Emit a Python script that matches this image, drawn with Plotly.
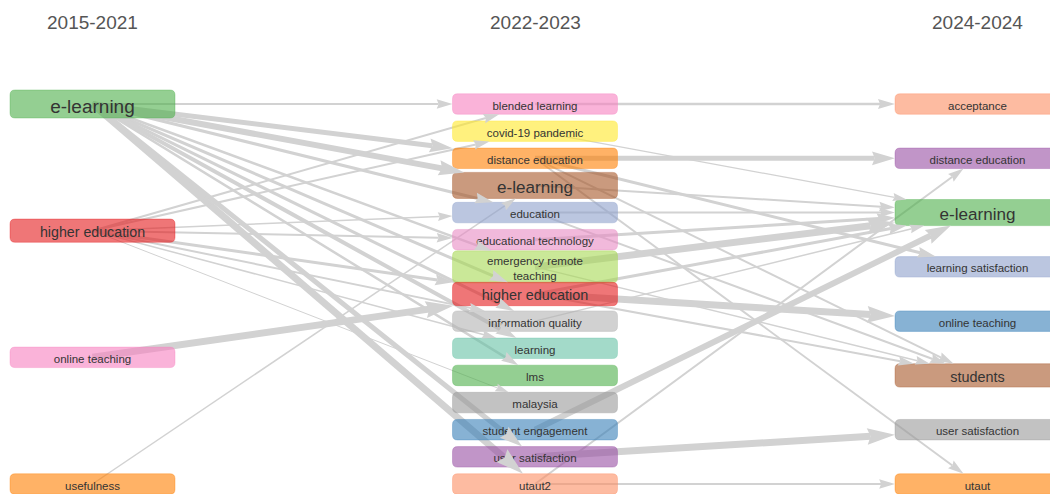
import math
import plotly.graph_objects as go

# ---------------- data ----------------
period_titles = ["2015-2021", "2022-2023", "2024-2024"]

p1_labels = ["e-learning", "higher education", "online teaching", "usefulness"]
p1_freq = [57, 27, 10, 10]

p2_labels = ["blended learning", "covid-19 pandemic", "distance education", "e-learning",
             "education", "educational technology", "emergency remote teaching",
             "higher education", "information quality", "learning", "lms", "malaysia",
             "student engagement", "user satisfaction", "utaut2"]
p2_freq = [10, 10, 10, 45, 10, 10, 10, 28, 10, 10, 10, 10, 10, 10, 10]

p3_labels = ["acceptance", "distance education", "e-learning", "learning satisfaction",
             "online teaching", "students", "user satisfaction", "utaut"]
p3_freq = [10, 10, 45, 10, 10, 28, 10, 10]

# links period 1 -> period 2
l12_source = ["e-learning", "e-learning", "e-learning", "e-learning", "e-learning",
              "e-learning", "e-learning", "e-learning", "e-learning", "e-learning",
              "e-learning", "higher education", "higher education", "higher education",
              "higher education", "higher education", "higher education",
              "higher education", "higher education", "online teaching", "usefulness"]
l12_target = ["blended learning", "distance education", "e-learning", "education",
              "emergency remote teaching", "higher education", "information quality",
              "learning", "lms", "user satisfaction", "utaut2", "blended learning",
              "covid-19 pandemic", "education", "educational technology",
              "higher education", "information quality", "learning", "malaysia",
              "higher education", "e-learning"]
l12_weight = [2, 5, 6, 3, 2.5, 3, 3, 4, 2.5, 5, 7, 2, 2, 1.5, 2, 3, 2, 1.5, 1, 7, 1.5]

# links period 2 -> period 3
l23_source = ["blended learning", "covid-19 pandemic", "distance education",
              "distance education", "distance education", "distance education",
              "e-learning", "education", "education", "educational technology",
              "emergency remote teaching", "emergency remote teaching",
              "higher education", "higher education", "higher education",
              "information quality", "student engagement", "user satisfaction",
              "utaut2", "utaut2"]
l23_target = ["acceptance", "e-learning", "distance education", "learning satisfaction",
              "students", "utaut", "e-learning", "e-learning", "students", "e-learning",
              "e-learning", "students", "e-learning", "online teaching", "students",
              "e-learning", "e-learning", "user satisfaction", "distance education",
              "utaut"]
l23_weight = [2.5, 1.2, 5, 3, 2, 2, 2, 2, 2, 3, 7, 1.5, 3, 7, 2, 1.5, 6, 7, 2, 2]

# ---------------- styles ----------------
p1_colors = ["77,175,74", "228,26,28", "247,129,191", "255,127,0"]
p2_colors = ["247,129,191", "255,232,40", "255,127,0", "166,86,40", "141,160,203",
             "231,138,195", "166,216,84", "228,26,28", "179,179,179", "102,194,165",
             "77,175,74", "153,153,153", "55,126,184", "152,78,163", "252,141,98"]
p3_colors = ["252,141,98", "152,78,163", "77,175,74", "141,160,203", "55,126,184",
             "166,86,40", "153,153,153", "255,127,0"]

FIG_W, FIG_H = 1050, 494
COL_X0, COL_DX = 92.5, 442.5
Y_TOP, Y_BOT = 104, 484
BOX_W = 165
EDGE_COL = "rgb(210,210,210)"
FONT = "Arial, Liberation Sans, sans-serif"


def font_size(v):
    return 11.5 + 0.16 * (v - 10)


def wrap(label, fs):
    est = len(label) * 0.5 * fs
    if est <= 135:
        return [label]
    words = label.split(" ")
    first, rest = [], words[:]
    while rest and len(" ".join(first + [rest[0]])) * 0.5 * fs <= 100:
        first.append(rest.pop(0))
    return [" ".join(first), " ".join(rest)]


nodes = {}
for col, (labels, freqs, cols) in enumerate([(p1_labels, p1_freq, p1_colors),
                                             (p2_labels, p2_freq, p2_colors),
                                             (p3_labels, p3_freq, p3_colors)]):
    n = len(labels)
    for i, (lab, v, c) in enumerate(zip(labels, freqs, cols)):
        fs = font_size(v)
        lines = wrap(lab, fs)
        h = fs * len(lines) + 9
        nodes[(col, lab)] = dict(x=COL_X0 + COL_DX * col,
                                 y=Y_TOP + i * (Y_BOT - Y_TOP) / (n - 1),
                                 hw=BOX_W / 2, hh=h / 2, fs=fs, color=c,
                                 text="<br>".join(lines))

edges = []
for s, t, w in zip(l12_source, l12_target, l12_weight):
    edges.append((nodes[(0, s)], nodes[(1, t)], w))
for s, t, w in zip(l23_source, l23_target, l23_weight):
    edges.append((nodes[(1, s)], nodes[(2, t)], w))

fig = go.Figure()
arrow_shapes = []
for S, T, w in edges:
    dx, dy = T["x"] - S["x"], T["y"] - S["y"]
    d = math.hypot(dx, dy)
    ux, uy = dx / d, dy / d
    tb = min(T["hw"] / abs(ux) if ux else 1e9, T["hh"] / abs(uy) if uy else 1e9)
    tipx, tipy = T["x"] - ux * tb, T["y"] - uy * tb
    L = 11 + 2.4 * w
    nx, ny = -uy, ux
    bx, by = tipx - ux * L, tipy - uy * L
    nbx, nby = tipx - ux * 0.88 * L, tipy - uy * 0.88 * L
    fig.add_trace(go.Scatter(x=[S["x"], nbx], y=[S["y"], nby], mode="lines",
                             line=dict(color=EDGE_COL, width=w),
                             hoverinfo="skip", showlegend=False))
    hw = 0.3 * L
    path = (f"M {tipx:.2f},{tipy:.2f} L {bx + nx * hw:.2f},{by + ny * hw:.2f} "
            f"L {nbx:.2f},{nby:.2f} L {bx - nx * hw:.2f},{by - ny * hw:.2f} Z")
    arrow_shapes.append(dict(type="path", path=path, xref="x", yref="y",
                             fillcolor=EDGE_COL, line=dict(width=0), layer="above"))

node_shapes = []
r = 5
for (col, lab), N in nodes.items():
    x0, x1 = N["x"] - N["hw"], N["x"] + N["hw"]
    y0, y1 = N["y"] - N["hh"], N["y"] + N["hh"]
    path = (f"M {x0 + r},{y0} L {x1 - r},{y0} Q {x1},{y0} {x1},{y0 + r} "
            f"L {x1},{y1 - r} Q {x1},{y1} {x1 - r},{y1} L {x0 + r},{y1} "
            f"Q {x0},{y1} {x0},{y1 - r} L {x0},{y0 + r} Q {x0},{y0} {x0 + r},{y0} Z")
    node_shapes.append(dict(type="path", path=path, xref="x", yref="y",
                            fillcolor=f"rgba({N['color']},0.6)",
                            line=dict(color=f"rgba({N['color']},0.35)", width=1),
                            layer="above",
                            label=dict(text=N["text"], textposition="middle center",
                                       font=dict(size=N["fs"], color="#343434",
                                                 family=FONT))))

annotations = []
for k, t in enumerate(period_titles):
    annotations.append(dict(x=COL_X0 + COL_DX * k, y=22, xref="x", yref="y", text=t,
                            showarrow=False,
                            font=dict(size=19, color="#555555", family=FONT)))

fig.update_layout(
    width=FIG_W, height=FIG_H, autosize=False,
    margin=dict(l=0, r=0, t=0, b=0),
    paper_bgcolor="white", plot_bgcolor="white",
    xaxis=dict(range=[0, FIG_W], visible=False, fixedrange=True),
    yaxis=dict(range=[FIG_H, 0], visible=False, fixedrange=True),
    shapes=node_shapes + arrow_shapes,
    annotations=annotations,
    showlegend=False,
)

fig.write_html("out.html", config={"displayModeBar": False},
               post_script="document.body.style.margin='0px';"
                           "document.body.style.overflow='hidden';")
